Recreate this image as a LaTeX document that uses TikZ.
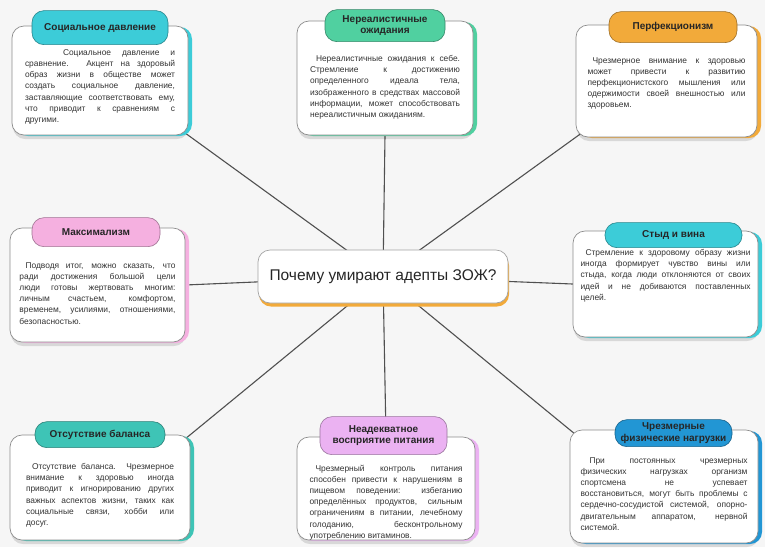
\documentclass[tikz,border=0pt]{standalone}
\usepackage{fontspec}
\setmainfont{Liberation Sans}
\usetikzlibrary{shadows,backgrounds}
\definecolor{bgcol}{HTML}{F6F6F6}
\definecolor{linecol}{HTML}{505050}
\definecolor{framecol}{HTML}{8C8C8C}
\definecolor{txtcol}{HTML}{333333}
\definecolor{cyanc}{HTML}{3CCCD8}
\definecolor{greenc}{HTML}{50D0A0}
\definecolor{orangec}{HTML}{F2AA3A}
\definecolor{pinkc}{HTML}{F5B0E0}
\definecolor{tealc}{HTML}{3EC4B6}
\definecolor{lilac}{HTML}{EBB2F2}
\definecolor{bluec}{HTML}{2296D4}
\hyphenpenalty=10000
\emergencystretch=2em
\begin{document}
\begin{tikzpicture}[x=1pt,y=-1pt,
  card/.style={draw=framecol,line width=0.7pt,fill=white,rounded corners=12pt,
    general shadow={shadow xshift=1pt,shadow yshift=-4pt,fill=black,opacity=.12},
    general shadow={shadow xshift=4pt,shadow yshift=-1pt,fill=#1,opacity=1}},
  pill/.style={draw=#1!65!black,line width=0.6pt,fill=#1,rounded corners=12pt,
    align=center,inner xsep=4pt,inner ysep=2pt,text=black!85,
    font=\fontsize{10}{11.5}\selectfont\bfseries},
  blurb/.style={text width=#1,align=justify,inner sep=0pt,anchor=north,text=txtcol,
    font=\fontsize{8.4}{11.2}\selectfont},
  link/.style={draw=linecol,line width=1.1pt,shorten >=-6pt}]
%centre question
\node[draw=framecol!80,line width=0.7pt,fill=white,rounded corners=12pt,
  general shadow={shadow xshift=1pt,shadow yshift=-3.5pt,fill=orangec,opacity=1},
  minimum width=250,minimum height=53,font=\fontsize{15.5}{18}\selectfont,text=black!85]
  (quest) at (383,276.5) {Почему умирают адепты ЗОЖ?};
%top row
\node[card=cyanc,minimum width=176,minimum height=109] (soc) at (100,80.5) {};
\node[pill=cyanc,minimum width=136,minimum height=34] (socT) at ([yshift=-2pt]soc.north) {Социальное давление};
\node[blurb=150pt] (socB) at ([yshift=-23.5pt]soc.north) {\hspace*{38pt}Социальное давление и\linebreak
  сравнение. Акцент на здоровый\linebreak образ жизни в обществе может\linebreak
  создать социальное давление,\linebreak заставляющие соответствовать ему,\linebreak
  что приводит к сравнениям с\linebreak другими.};
\node[card=greenc,minimum width=176,minimum height=114] (ner) at (385,78) {};
\node[pill=greenc,minimum width=120,minimum height=32] (nerT) at ([yshift=-5pt]ner.north) {Нереалистичные\\ожидания};
\node[blurb=150pt] (nerB) at ([yshift=-34.5pt]ner.north) {\hspace*{6pt}Нереалистичные ожидания к себе.\linebreak
  Стремление к достижению\linebreak определенного идеала тела,\linebreak
  изображенного в средствах массовой\linebreak информации, может способствовать\linebreak
  нереалистичным ожиданиям.};
\node[card=orangec,minimum width=181,minimum height=112] (per) at (666.5,81) {};
\node[pill=orangec,minimum width=128,minimum height=31] (perT) at ([xshift=6.5pt,yshift=-2.5pt]per.north) {Перфекционизм};
\node[blurb=158pt] (perB) at ([yshift=-32.5pt]per.north) {\hspace*{5pt}Чрезмерное внимание к здоровью\linebreak
  может привести к развитию\linebreak перфекционистского мышления или\linebreak
  одержимости своей внешностью или\linebreak здоровьем.};
%middle row
\node[card=pinkc,minimum width=175,minimum height=114] (max) at (97.5,285) {};
\node[pill=pinkc,minimum width=128,minimum height=29] (maxT) at ([xshift=-1.5pt,yshift=-4.5pt]max.north) {Максимализм};
\node[blurb=156pt] (maxB) at ([yshift=-34.5pt]max.north) {\hspace*{6pt}Подводя итог, можно сказать, что\linebreak
  ради достижения большой цели\linebreak люди готовы жертвовать многим:\linebreak
  личным счастьем, комфортом,\linebreak временем, усилиями, отношениями,\linebreak
  безопасностью.};
\node[card=cyanc,minimum width=185,minimum height=106] (sty) at (665.5,284) {};
\node[pill=cyanc,minimum width=137,minimum height=25] (styT) at ([xshift=8pt,yshift=-4.5pt]sty.north) {Стыд и вина};
\node[blurb=170pt] (styB) at ([yshift=-18.5pt]sty.north) {\hspace*{5pt}Стремление к здоровому образу жизни\linebreak
  иногда формирует чувство вины или\linebreak стыда, когда люди отклоняются от своих\linebreak
  идей и не добиваются поставленных\linebreak целей.};
%bottom row
\node[card=tealc,minimum width=180,minimum height=105] (bal) at (100,487.5) {};
\node[pill=tealc,minimum width=130,minimum height=26] (balT) at (bal.north) {Отсутствие баланса};
\node[blurb=148pt] (balB) at ([yshift=-28.5pt]bal.north) {\hspace*{6pt}Отсутствие баланса. Чрезмерное\linebreak
  внимание к здоровью иногда\linebreak приводит к игнорированию других\linebreak
  важных аспектов жизни, таких как\linebreak социальные связи, хобби или\linebreak досуг.};
\node[card=lilac,minimum width=178,minimum height=103] (nea) at (386,488.5) {};
\node[pill=lilac,minimum width=127,minimum height=38] (neaT) at ([xshift=-2.5pt,yshift=1pt]nea.north) {Неадекватное\\восприятие питания};
\node[blurb=153pt] (neaB) at ([yshift=-28pt]nea.north) {\hspace*{6pt}Чрезмерный контроль питания\linebreak
  способен привести к нарушениям в\linebreak пищевом поведении: избеганию\linebreak
  определённых продуктов, сильным\linebreak ограничениям в питании, лечебному\linebreak
  голоданию, бесконтрольному\linebreak употреблению витаминов.};
\node[card=bluec,minimum width=188,minimum height=113] (fiz) at (664,486.5) {};
\node[pill=bluec,minimum width=117,minimum height=27] (fizT) at ([xshift=9.5pt,yshift=-3.5pt]fiz.north) {Чрезмерные\\физические нагрузки};
\node[blurb=167pt] (fizB) at ([yshift=-27.5pt]fiz.north) {\hspace*{9pt}При постоянных чрезмерных\linebreak
  физических нагрузках организм\linebreak спортсмена не успевает\linebreak
  восстановиться, могут быть проблемы с\linebreak сердечно-сосудистой системой, опорно-\linebreak
  двигательным аппаратом, нервной\linebreak системой.};
%spokes
\begin{scope}[on background layer]
\fill[bgcol](0,0) rectangle (765,547);
\foreach \t/\a in {soc/south east,ner/south,per/south west,max/east,sty/west,bal/north east,nea/north,fiz/north west}
  \draw[link](quest.center)--(\t.\a);
\end{scope}
\end{tikzpicture}
\end{document}
